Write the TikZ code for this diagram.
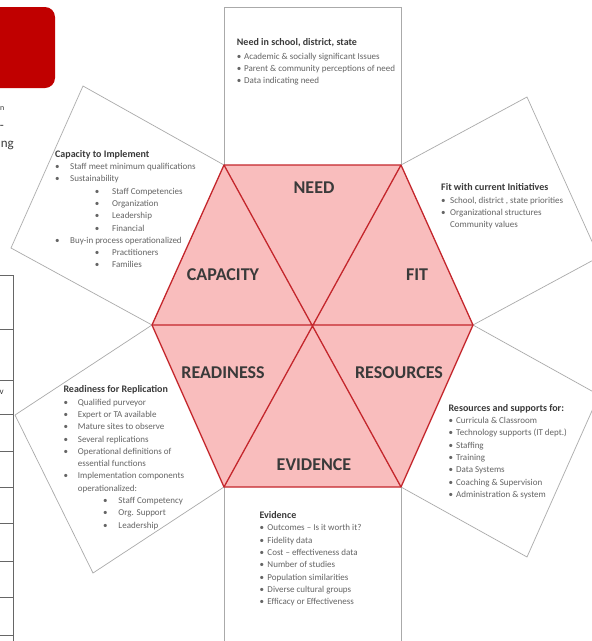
\documentclass[tikz,border=0pt]{standalone}
\usepackage{fontspec}
\setmainfont{Carlito}
\usepackage{tikz}
\usepackage{xcolor}
\usetikzlibrary{positioning}
\definecolor{hexfill}{RGB}{249,189,189}
\definecolor{hexline}{RGB}{196,38,44}
\definecolor{boxline}{RGB}{170,170,170}
\definecolor{labgray}{RGB}{58,58,58}
\definecolor{txtgray}{RGB}{100,100,100}
\definecolor{slidered}{RGB}{192,0,0}
\newcommand{\bul}[3]{\hspace*{#1}\makebox[#2][l]{\textbullet}#3}
\newcommand{\ttl}{\fontsize{10}{12.3}\selectfont\bfseries\color{labgray}}

\begin{document}
\begin{tikzpicture}[x=1pt, y=-1pt,
    sq/.style={draw=boxline, line width=0.7pt},
    hexlab/.style={font=\fontsize{18}{20}\selectfont\bfseries, text=labgray},
    blk/.style={anchor=north west, inner sep=0pt, align=left, text=txtgray, font=\fontsize{9}{12.3}\selectfont},
    frag/.style={anchor=base east, inner sep=0pt, text=labgray, font=\fontsize{13}{15}\selectfont},
    tbl/.style={draw=black!60, line width=1pt}]
\useasboundingbox (0,0) rectangle (592,641);
\clip (0,0) rectangle (592,641);
\fill[white] (0,0) rectangle (592,641);

\fill[slidered, rounded corners=10pt] (-15,7) rectangle (55,88);
\node[frag, anchor=base west, font=\fontsize{8}{10}\selectfont] (fragA) at (0,110) {n};
\node[frag] (fragB) at (4,129) {-};
\node[frag] (fragC) at (14,147) {ng};

\draw[tbl] (13,275) -- (13,641);
\foreach \y in {275,329,380,414,451,487,523,561,597,635}
    \draw[tbl] (0,\y) -- (13,\y);
\node[frag, font=\fontsize{9}{11}\selectfont] (fragD) at (4,394) {v};

\coordinate (tl) at (224,165);
\coordinate (tr) at (401,165);
\coordinate (rr) at (473,325);
\coordinate (br) at (401,487);
\coordinate (bl) at (224,487);
\coordinate (ll) at (152,325);

\draw[sq] (tl) -- (224,7) -- (401,7) -- (tr);
\draw[sq] (tr) -- (527,97) -- (599,257) -- (rr);
\draw[sq] (rr) -- (599,395) -- (527,557) -- (br);
\draw[sq] (br) -- (401,660) (224,660) -- (bl);
\draw[sq] (bl) -- (93,573) -- (15,415) -- (ll);
\draw[sq] (ll) -- (11,248) -- (83,86) -- (tl);

\filldraw[fill=hexfill, draw=hexline, line width=1.3pt, line join=round]
    (tl) -- (tr) -- (rr) -- (br) -- (bl) -- (ll) -- cycle;
\draw[hexline, line width=1.3pt] (ll) -- (rr) (tl) -- (br) (tr) -- (bl);

\node[hexlab] (need) at (314,188) {NEED};
\node[hexlab] (capacity) at (223,275) {CAPACITY};
\node[hexlab] (fit) at (417,275) {FIT};
\node[hexlab] (readiness) at (223,373) {READINESS};
\node[hexlab] (resources) at (399,373) {RESOURCES};
\node[hexlab] (evidence) at (314,465) {EVIDENCE};

\node[blk] (needtxt) at (236.7,38) {{\ttl Need in school, district, state}\\[1.5pt]
    \bul{0pt}{7.3pt}{Academic \& socially significant Issues}\\
    \bul{0pt}{7.3pt}{Parent \& community perceptions of need}\\
    \bul{0pt}{7.3pt}{Data indicating need}};

\node[blk] (captxt) at (55,150) {{\ttl Capacity to Implement}\\
    \bul{0pt}{15pt}{Staff meet minimum qualifications}\\
    \bul{0pt}{15pt}{Sustainability}\\
    \bul{39.7pt}{17.3pt}{Staff Competencies}\\
    \bul{39.7pt}{17.3pt}{Organization}\\
    \bul{39.7pt}{17.3pt}{Leadership}\\
    \bul{39.7pt}{17.3pt}{Financial}\\
    \bul{0pt}{15pt}{Buy-in process operationalized}\\
    \bul{39.7pt}{17.3pt}{Practitioners}\\
    \bul{39.7pt}{17.3pt}{Families}};

\node[blk] (fittxt) at (441,183.6) {{\ttl Fit with current Initiatives}\\
    \bul{0pt}{9pt}{School, district , state priorities}\\
    \bul{0pt}{9pt}{Organizational structures}\\
    \hspace*{9pt}Community values};

\node[blk] (readytxt) at (63.3,385.6) {{\ttl Readiness for Replication}\\
    \bul{0pt}{14.4pt}{Qualified purveyor}\\
    \bul{0pt}{14.4pt}{Expert or TA available}\\
    \bul{0pt}{14.4pt}{Mature sites to observe}\\
    \bul{0pt}{14.4pt}{Several replications}\\
    \bul{0pt}{14.4pt}{Operational definitions of}\\
    \hspace*{14.4pt}essential functions\\
    \bul{0pt}{14.4pt}{Implementation components}\\
    \hspace*{14.4pt}operationalized:\\
    \bul{39.7pt}{15.3pt}{Staff Competency}\\
    \bul{39.7pt}{15.3pt}{Org. Support}\\
    \bul{39.7pt}{15.3pt}{Leadership}};

\node[blk] (restxt) at (448.3,404) {{\ttl Resources and supports for:}\\
    \bul{0pt}{7.7pt}{Curricula \& Classroom}\\
    \bul{0pt}{7.7pt}{Technology supports (IT dept.)}\\
    \bul{0pt}{7.7pt}{Staffing}\\
    \bul{0pt}{7.7pt}{Training}\\
    \bul{0pt}{7.7pt}{Data Systems}\\
    \bul{0pt}{7.7pt}{Coaching \& Supervision}\\
    \bul{0pt}{7.7pt}{Administration \& system}};

\node[blk] (evidtxt) at (259.3,511.3) {{\ttl Evidence}\\
    \bul{0pt}{8pt}{Outcomes -- Is it worth it?}\\
    \bul{0pt}{8pt}{Fidelity data}\\
    \bul{0pt}{8pt}{Cost -- effectiveness data}\\
    \bul{0pt}{8pt}{Number of studies}\\
    \bul{0pt}{8pt}{Population similarities}\\
    \bul{0pt}{8pt}{Diverse cultural groups}\\
    \bul{0pt}{8pt}{Efficacy or Effectiveness}};
\end{tikzpicture}
\end{document}
